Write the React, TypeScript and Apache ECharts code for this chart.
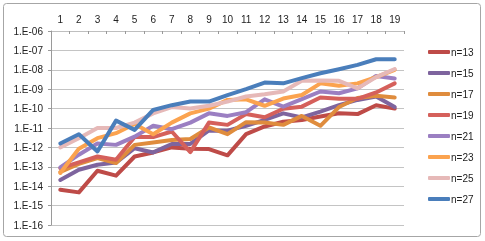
import React, { useEffect, useRef } from "react";
import * as echarts from "echarts";

const categories = ["1","2","3","4","5","6","7","8","9","10","11","12","13","14","15","16","17","18","19"];
const seriesNames = ["n=13","n=15","n=17","n=19","n=21","n=23","n=25","n=27"];
const n13 = [6.6e-15,4.8e-15,6.3e-14,3.5e-14,3.4e-13,5.5e-13,1e-12,8.5e-13,8.2e-13,3.9e-13,4.8e-12,1.2e-11,2.1e-11,2.6e-11,3.9e-11,5.7e-11,5.2e-11,1.5e-10,1e-10];
const n15 = [2.1e-14,7e-14,1.27e-13,1.65e-13,9e-13,5.5e-13,1.5e-12,1.5e-12,7.5e-12,7.3e-12,1.3e-11,2.6e-11,5.7e-11,3.5e-11,7e-11,1.5e-10,2.8e-10,4.2e-10,1.2e-10];
const n17 = [5.4e-14,1.4e-13,2.8e-13,1.55e-13,1.35e-12,1.8e-12,2.4e-12,2.7e-12,1.07e-11,4.8e-12,2e-11,1.9e-11,1.45e-11,4.2e-11,1.3e-11,1.2e-10,3.5e-10,4.6e-10,3.7e-10];
const n19 = [8.6e-14,1.7e-13,3.4e-13,2.3e-13,3.4e-12,3.4e-12,6.6e-12,5.7e-13,1.9e-11,1.45e-11,5.3e-11,3.6e-11,9.8e-11,1.26e-10,3.7e-10,3.2e-10,3.2e-10,6.8e-10,2e-9];
const n21 = [9.3e-14,4.2e-13,1.6e-12,1.35e-12,3.6e-12,1.3e-11,8.7e-12,1.9e-11,5.7e-11,4.2e-11,6.5e-11,3e-10,1.26e-10,3.1e-10,7.6e-10,6.2e-10,1.1e-9,4.8e-9,3.6e-9];
const n23 = [4.8e-14,8.5e-13,3e-12,5.4e-12,1.6e-11,4.8e-12,1.9e-11,5.7e-11,1e-10,2.8e-10,3e-10,1.4e-10,3.3e-10,5e-10,2e-9,1.5e-9,2e-9,4.2e-9,1e-8];
const n25 = [1e-12,3e-12,1e-11,1e-11,1.9e-11,5.7e-11,1.2e-10,1e-10,1.4e-10,2.3e-10,4.2e-10,5.5e-10,7.6e-10,2.7e-9,2.8e-9,2.7e-9,1.1e-9,4.2e-9,1.1e-8];
const n27 = [1.6e-12,4.8e-12,6.2e-13,2.4e-11,8e-12,8.5e-11,1.5e-10,2.3e-10,2.3e-10,5e-10,1e-9,2.2e-9,2e-9,3.7e-9,6.6e-9,1.07e-8,1.8e-8,3.5e-8,3.5e-8];
const seriesValues = [n13, n15, n17, n19, n21, n23, n25, n27];
const colors = ["#be4b48","#7e649e","#df8c3d","#d5605b","#9b7fc2","#fba34f","#e6b9b8","#4a7ebb"];

const fmt = (v: number) => {
  const e = Math.round(Math.log10(v));
  return "1.E" + (e < 0 ? "-" : "+") + String(Math.abs(e)).padStart(2, "0");
};

export default function App() {
  const ref = useRef<HTMLDivElement>(null);
  useEffect(() => {
    if (!ref.current) return;
    const chart = echarts.init(ref.current, null, { renderer: "svg" });
    const font = "Liberation Sans, Arial, sans-serif";
    chart.setOption({
      animation: false,
      color: colors,
      textStyle: { fontFamily: font },
      graphic: [
        {
          type: "rect",
          shape: { x: 3.5, y: 3.5, width: 477, height: 233, r: 3 },
          style: { fill: "none", stroke: "#a6a6a6", lineWidth: 1 },
          silent: true,
        },
      ],
      grid: { left: 51, right: 81, top: 31, bottom: 16, containLabel: false },
      legend: {
        orient: "vertical",
        left: 423,
        top: 41,
        itemWidth: 22,
        itemHeight: 4,
        itemGap: 9,
        icon: "roundRect",
        data: seriesNames,
        textStyle: { fontSize: 10, color: "#222", lineHeight: 12, padding: [0, 0, 0, -4], fontFamily: font },
      },
      xAxis: {
        type: "category",
        position: "top",
        data: categories,
        boundaryGap: true,
        axisLine: { show: true, lineStyle: { color: "#bfbfbf", width: 1 } },
        axisTick: { show: true, inside: true, length: 3, interval: 0, alignWithLabel: false, lineStyle: { color: "#999" } },
        axisLabel: { fontSize: 10, color: "#222", margin: 7, interval: 0, fontFamily: font },
        splitLine: { show: false },
      },
      yAxis: {
        type: "log",
        logBase: 10,
        min: 1e-16,
        max: 1e-6,
        interval: 1,
        axisLine: { show: true, lineStyle: { color: "#9a9a9a", width: 1 } },
        axisTick: { show: true, length: 3, lineStyle: { color: "#9a9a9a" } },
        axisLabel: { fontSize: 10, color: "#222", margin: 8, formatter: fmt, fontFamily: font },
        splitLine: { show: true, lineStyle: { color: "#c4c4c4", width: 1 } },
        minorTick: { show: false },
      },
      series: seriesNames.map((name, i) => ({
        name,
        type: "line",
        data: seriesValues[i],
        showSymbol: false,
        symbol: "none",
        lineStyle: { width: 4, color: colors[i], cap: "round", join: "round" },
        itemStyle: { color: colors[i] },
        z: 2 + i,
      })),
    });
    return () => chart.dispose();
  }, []);
  return <div ref={ref} style={{ position: "fixed", left: 0, top: 0, width: 485, height: 241 }} />;
}
